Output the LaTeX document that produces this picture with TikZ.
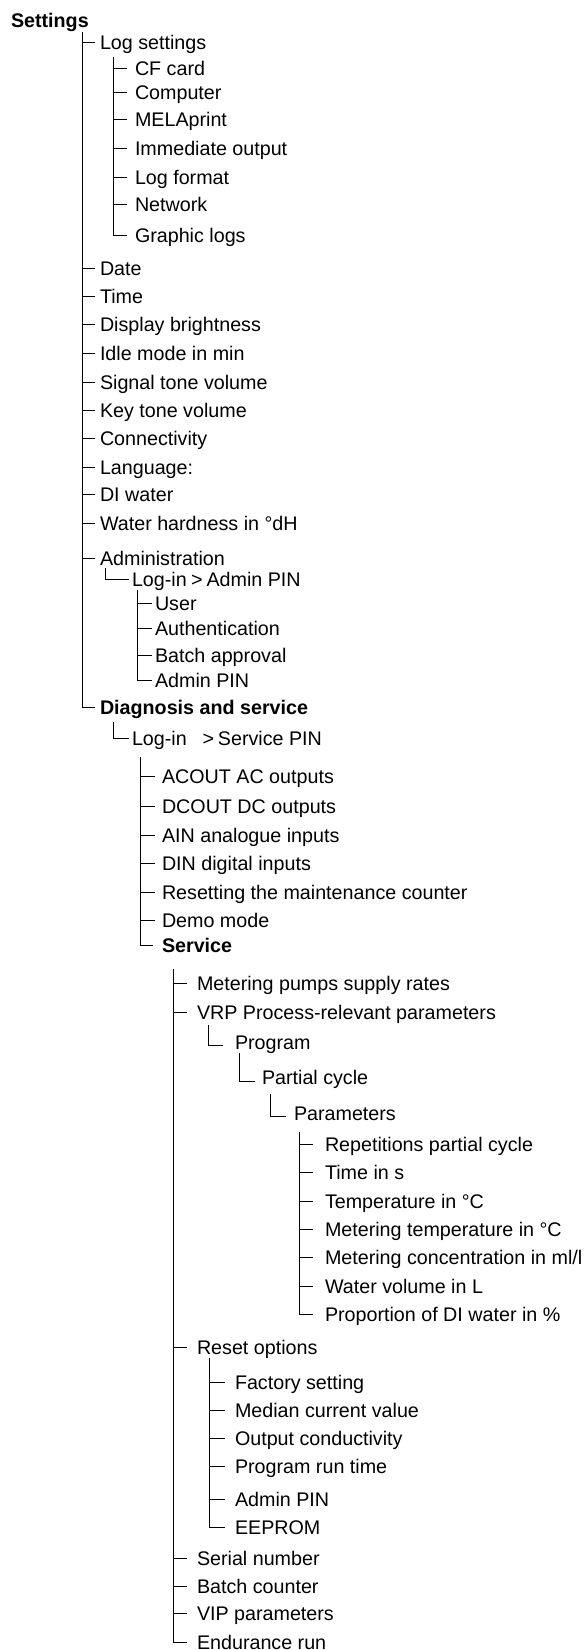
\documentclass[tikz,border=0pt]{standalone}
\usepackage{fontspec}
\setmainfont{Liberation Sans}
\tikzset{
  entry/.style={anchor=west, inner sep=0pt, outer xsep=#1, text height=14pt, text depth=0pt},
  entry/.default=5pt,
  branch/.style={draw, line width=0.9pt}
}
\begin{document}
\begin{tikzpicture}[x=1pt, y=-1pt, font=\fontsize{19.7}{22}\selectfont]
\useasboundingbox (0,0) rectangle (588,1650);
% trunks
\coordinate (t0) at (82,32);
\coordinate (t1) at (113,57);
\coordinate (t2) at (105,568);
\coordinate (t3) at (137,590);
\coordinate (t4) at (113,722);
\coordinate (t5) at (140,757);
\coordinate (t6) at (173,969);
\coordinate (t7) at (208,1025);
\coordinate (t8) at (239,1053);
\coordinate (t9) at (270,1094);
\coordinate (t10) at (299,1132);
\coordinate (t11) at (209,1358);
% first level
\node[entry=0pt, font=\fontsize{19.7}{22}\selectfont\bfseries] (settings) at (11,20) {Settings};
\node[entry] (logset) at (95,42) {Log settings};
\node[entry] (date) at (95,268) {Date};
\node[entry] (time) at (95,296) {Time};
\node[entry] (bright) at (95,324) {Display brightness};
\node[entry] (idle) at (95,353) {Idle mode in min};
\node[entry] (signal) at (95,382) {Signal tone volume};
\node[entry] (keytone) at (95,410) {Key tone volume};
\node[entry] (connect) at (95,438) {Connectivity};
\node[entry] (lang) at (95,467) {Language:};
\node[entry] (diwater) at (95,494) {DI water};
\node[entry] (hardness) at (95,523) {Water hardness in °dH};
\node[entry] (admin) at (95,558) {Administration};
\node[entry, font=\fontsize{19.7}{22}\selectfont\bfseries] (diag) at (95,707) {Diagnosis and service};
% log settings
\node[entry=8pt] (cfcard) at (127,68) {CF card};
\node[entry=8pt] (computer) at (127,92) {Computer};
\node[entry=8pt] (melaprint) at (127,119) {MELAprint};
\node[entry=8pt] (immout) at (127,148) {Immediate output};
\node[entry=8pt] (logfmt) at (127,177) {Log format};
\node[entry=8pt] (network) at (127,204) {Network};
\node[entry=8pt] (graphlogs) at (127,235) {Graphic logs};
% administration
\node[entry=3pt] (adminlogin) at (129,579) {Log-in\hspace{0.22em}>\hspace{0.2em}Admin PIN};
\node[entry=3pt] (user) at (152,603) {User};
\node[entry=3pt] (auth) at (152,628) {Authentication};
\node[entry=3pt] (batchapp) at (152,655) {Batch approval};
\node[entry=3pt] (adminpin) at (152,680) {Admin PIN};
% diagnosis and service
\node[entry=3pt] (servlogin) at (129,738) {Log-in\hspace{0.8em}>\hspace{0.2em}Service PIN};
\node[entry=7pt] (acout) at (155,776) {ACOUT AC outputs};
\node[entry=7pt] (dcout) at (155,806) {DCOUT DC outputs};
\node[entry=7pt] (ain) at (155,835) {AIN analogue inputs};
\node[entry=7pt] (din) at (155,863) {DIN digital inputs};
\node[entry=7pt] (resetmc) at (155,892) {Resetting the maintenance counter};
\node[entry=7pt] (demo) at (155,920) {Demo mode};
\node[entry=9pt, font=\fontsize{19.7}{22}\selectfont\bfseries] (service) at (153,945) {Service};
% service
\node[entry=10pt] (pumps) at (187,983) {Metering pumps supply rates};
\node[entry=10pt] (vrp) at (187,1012) {VRP Process-relevant parameters};
\node[entry=12pt] (program) at (223,1042) {Program};
\node[entry=7pt] (partial) at (255,1077) {Partial cycle};
\node[entry=8pt] (params) at (286,1113) {Parameters};
\node[entry=12pt] (reps) at (313,1144) {Repetitions partial cycle};
\node[entry=12pt] (timeins) at (313,1172) {Time in s};
\node[entry=12pt] (temp) at (313,1201) {Temperature in °C};
\node[entry=12pt] (mtemp) at (313,1229) {Metering temperature in °C};
\node[entry=12pt] (mconc) at (313,1257) {Metering concentration in ml/l};
\node[entry=12pt] (watervol) at (313,1286) {Water volume in L};
\node[entry=12pt] (propdi) at (313,1314) {Proportion of DI water in \%};
\node[entry=10pt] (resetopt) at (187,1347) {Reset options};
\node[entry=10pt] (factory) at (225,1382) {Factory setting};
\node[entry=10pt] (median) at (225,1410) {Median current value};
\node[entry=10pt] (outcond) at (225,1438) {Output conductivity};
\node[entry=10pt] (runtime) at (225,1466) {Program run time};
\node[entry=10pt] (resadmin) at (225,1499) {Admin PIN};
\node[entry=10pt] (eeprom) at (225,1527) {EEPROM};
\node[entry=10pt] (serial) at (187,1558) {Serial number};
\node[entry=10pt] (batchcnt) at (187,1586) {Batch counter};
\node[entry=10pt] (vip) at (187,1613) {VIP parameters};
\node[entry=10pt] (endurance) at (187,1642) {Endurance run};
% connectors
\path[branch] (t0) |- (diag.west);
\path[branch] (t0 |- logset.west) -- (logset.west);
\path[branch] (t0 |- date.west) -- (date.west);
\path[branch] (t0 |- time.west) -- (time.west);
\path[branch] (t0 |- bright.west) -- (bright.west);
\path[branch] (t0 |- idle.west) -- (idle.west);
\path[branch] (t0 |- signal.west) -- (signal.west);
\path[branch] (t0 |- keytone.west) -- (keytone.west);
\path[branch] (t0 |- connect.west) -- (connect.west);
\path[branch] (t0 |- lang.west) -- (lang.west);
\path[branch] (t0 |- diwater.west) -- (diwater.west);
\path[branch] (t0 |- hardness.west) -- (hardness.west);
\path[branch] (t0 |- admin.west) -- (admin.west);
\path[branch] (t1) |- (graphlogs.west);
\path[branch] (t1 |- cfcard.west) -- (cfcard.west);
\path[branch] (t1 |- computer.west) -- (computer.west);
\path[branch] (t1 |- melaprint.west) -- (melaprint.west);
\path[branch] (t1 |- immout.west) -- (immout.west);
\path[branch] (t1 |- logfmt.west) -- (logfmt.west);
\path[branch] (t1 |- network.west) -- (network.west);
\path[branch] (t2) |- (adminlogin.west);
\path[branch] (t3) |- (adminpin.west);
\path[branch] (t3 |- user.west) -- (user.west);
\path[branch] (t3 |- auth.west) -- (auth.west);
\path[branch] (t3 |- batchapp.west) -- (batchapp.west);
\path[branch] (t4) |- (servlogin.west);
\path[branch] (t5) |- (service.west);
\path[branch] (t5 |- acout.west) -- (acout.west);
\path[branch] (t5 |- dcout.west) -- (dcout.west);
\path[branch] (t5 |- ain.west) -- (ain.west);
\path[branch] (t5 |- din.west) -- (din.west);
\path[branch] (t5 |- resetmc.west) -- (resetmc.west);
\path[branch] (t5 |- demo.west) -- (demo.west);
\path[branch] (t6) |- (endurance.west);
\path[branch] (t6 |- pumps.west) -- (pumps.west);
\path[branch] (t6 |- vrp.west) -- (vrp.west);
\path[branch] (t6 |- resetopt.west) -- (resetopt.west);
\path[branch] (t6 |- serial.west) -- (serial.west);
\path[branch] (t6 |- batchcnt.west) -- (batchcnt.west);
\path[branch] (t6 |- vip.west) -- (vip.west);
\path[branch] (t7) |- ([yshift=-3pt]program.west);
\path[branch] (t8) |- ([yshift=-4pt]partial.west);
\path[branch] (t9) |- ([yshift=-3pt]params.west);
\path[branch] (t10) |- (propdi.west);
\path[branch] (t10 |- reps.west) -- (reps.west);
\path[branch] (t10 |- timeins.west) -- (timeins.west);
\path[branch] (t10 |- temp.west) -- (temp.west);
\path[branch] (t10 |- mtemp.west) -- (mtemp.west);
\path[branch] (t10 |- mconc.west) -- (mconc.west);
\path[branch] (t10 |- watervol.west) -- (watervol.west);
\path[branch] (t11) |- (eeprom.west);
\path[branch] (t11 |- factory.west) -- (factory.west);
\path[branch] (t11 |- median.west) -- (median.west);
\path[branch] (t11 |- outcond.west) -- (outcond.west);
\path[branch] (t11 |- runtime.west) -- (runtime.west);
\path[branch] (t11 |- resadmin.west) -- (resadmin.west);
\end{tikzpicture}
\end{document}
